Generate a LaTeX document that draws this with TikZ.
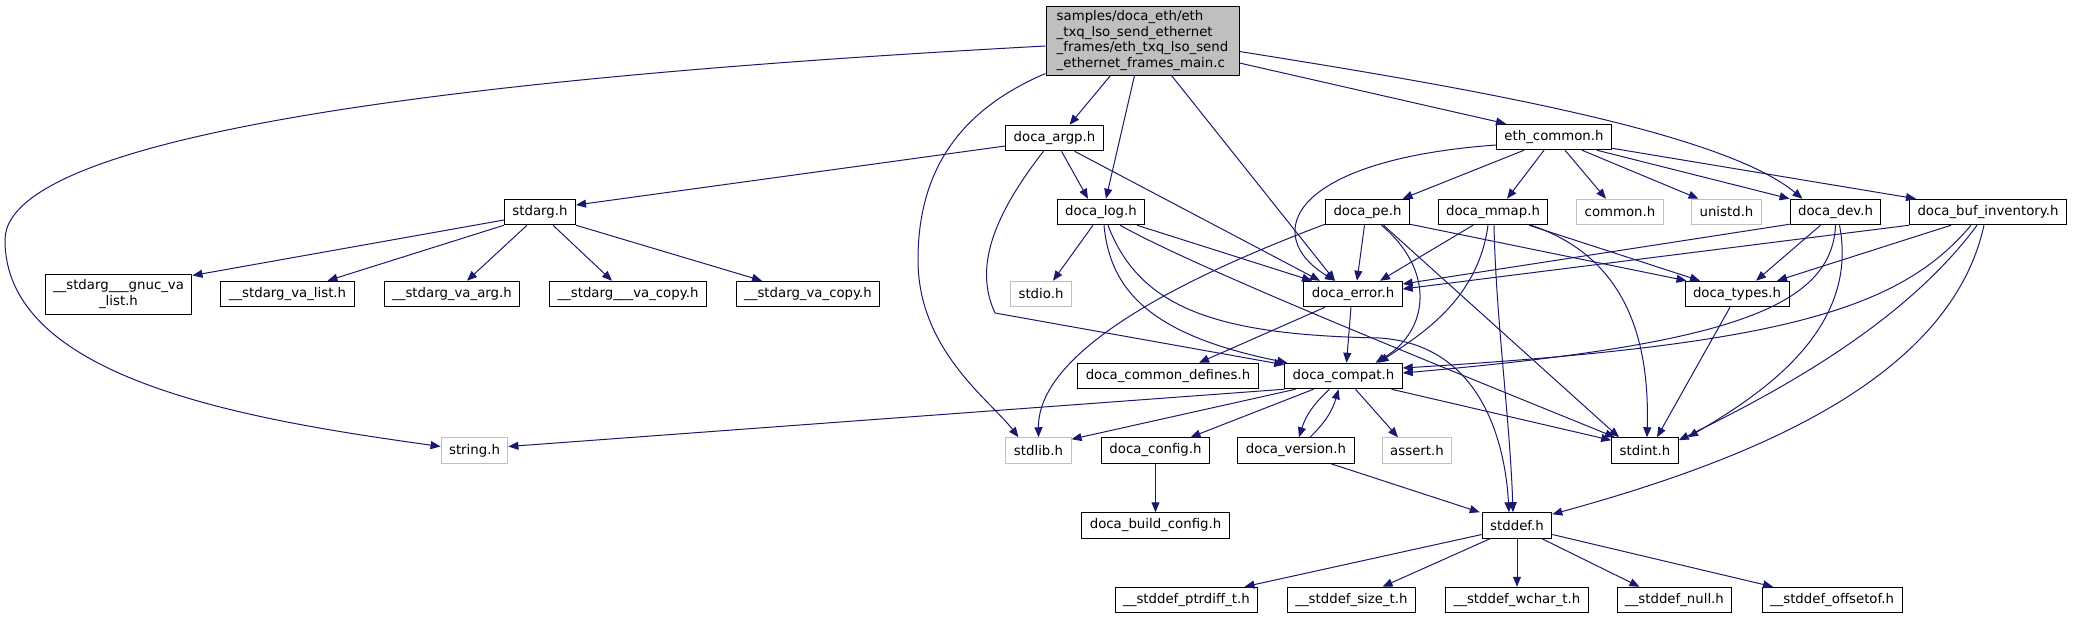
\documentclass[tikz,border=0pt]{standalone}
\usepackage{fontspec}
\setmainfont{DejaVu Sans}
\usepackage{tikz}
\usetikzlibrary{arrows.meta}
\definecolor{edgeblue}{RGB}{25,25,112}
\definecolor{nodegray}{RGB}{191,191,191}
\newcommand{\graphfont}{\fontsize{13.3}{15.5}\selectfont}

\begin{document}
\begin{tikzpicture}[
		x=1pt, y=-1pt,
		box/.style={rectangle, draw=black, fill=white, line width=1pt, minimum height=25.5pt,
				inner xsep=8pt, inner ysep=1pt, font=\graphfont},
		sysbox/.style={box, draw=nodegray},
		mainbox/.style={box, fill=nodegray, align=left, minimum width=193pt, minimum height=69pt},
		arr/.style={-{Triangle[length=10pt,width=8pt]}, line width=1pt, edgeblue},
		]
		\useasboundingbox (0,0) rectangle (2073,619);
		% Nodes
		\node[mainbox] (main) at (1142.5,40.5) {samples/doca\_eth/eth\\\_txq\_lso\_send\_ethernet\\\_frames/eth\_txq\_lso\_send\\\_ethernet\_frames\_main.c};
		\node[box] (argp) at (1054.5,138) {doca\_argp.h};
		\node[box] (log) at (1101,212) {doca\_log.h};
		\node[box] (stdarg) at (540,212) {stdarg.h};
		\node[box, align=center, minimum height=40pt] (gnuc) at (118.5,294) {\_\_stdarg\_\_\_gnuc\_va\\\_list.h};
		\node[box] (valist) at (287.5,294) {\_\_stdarg\_va\_list.h};
		\node[box] (vaarg) at (452,294) {\_\_stdarg\_va\_arg.h};
		\node[box] (vacopyA) at (628,294) {\_\_stdarg\_\_\_va\_copy.h};
		\node[box] (vacopyB) at (808,294) {\_\_stdarg\_va\_copy.h};
		\node[sysbox] (stdio) at (1041,294) {stdio.h};
		\node[box] (error) at (1353,294) {doca\_error.h};
		\node[box] (pe) at (1367.5,212) {doca\_pe.h};
		\node[box] (mmap) at (1493,212) {doca\_mmap.h};
		\node[box] (ethc) at (1554,137) {eth\_common.h};
		\node[sysbox] (common) at (1620,212) {common.h};
		\node[sysbox] (unistd) at (1726.5,212) {unistd.h};
		\node[box] (dev) at (1835.5,212) {doca\_dev.h};
		\node[box] (bufinv) at (1988,212) {doca\_buf\_inventory.h};
		\node[box] (types) at (1737,294) {doca\_types.h};
		\node[box] (commondef) at (1168,376) {doca\_common\_defines.h};
		\node[box] (compat) at (1343.5,376) {doca\_compat.h};
		\node[sysbox] (stringh) at (474.5,450.5) {string.h};
		\node[sysbox] (stdlib) at (1038.5,450.5) {stdlib.h};
		\node[box] (config) at (1155.5,450.5) {doca\_config.h};
		\node[box] (version) at (1296,450.5) {doca\_version.h};
		\node[sysbox] (assert) at (1417,450.5) {assert.h};
		\node[box] (stdint) at (1645,450.5) {stdint.h};
		\node[box] (buildcfg) at (1155.5,525.5) {doca\_build\_config.h};
		\node[box] (stddef) at (1517,525.5) {stddef.h};
		\node[box] (ptrdiff) at (1186.5,600) {\_\_stddef\_ptrdiff\_t.h};
		\node[box] (sizet) at (1351.5,600) {\_\_stddef\_size\_t.h};
		\node[box] (wchart) at (1517,600) {\_\_stddef\_wchar\_t.h};
		\node[box] (nullh) at (1674.5,600) {\_\_stddef\_null.h};
		\node[box] (offsetof) at (1832,600) {\_\_stddef\_offsetof.h};

		% Arrows from the main file
		\draw[arr] ([yshift=-5.5pt]main.west) .. controls (600,70) and (5,120) .. (5,240)
			.. controls (5,380) and (250,420) .. ([yshift=4pt]stringh.west);
		\draw[arr] ([yshift=2pt]main.south west) .. controls (960,110) and (918,170) .. (918,260)
			.. controls (918,350) and (990,400) .. ([xshift=-20pt]stdlib.north);
		\draw[arr] ([xshift=-32pt]main.south) -- ([xshift=15pt]argp.north);
		\draw[arr] ([xshift=-8pt]main.south) -- ([xshift=5pt]log.north);
		\draw[arr] ([xshift=29pt]main.south) -- ([xshift=-18pt]error.north);
		\draw[arr] ([yshift=-22.5pt]main.east) -- ([xshift=10pt]ethc.north west);
		\draw[arr] ([yshift=-11pt]main.east) .. controls (1450,85) and (1720,130) .. ([xshift=-33pt]dev.north);

		% doca_argp.h and stdarg.h
		\draw[arr] ([yshift=-8pt]argp.west) -- ([yshift=7pt]stdarg.east);
		\draw[arr] ([xshift=7pt]argp.south) -- ([xshift=-13pt]log.north);
		\draw[arr] ([xshift=20pt]argp.south) -- ([xshift=-33pt]error.north);
		\draw[arr] ([xshift=-11pt]argp.south) .. controls (990,220) and (975,270) .. (995,313)
			-- ([yshift=-2pt]compat.north west);
		\draw[arr] ([yshift=-8pt]stdarg.west) -- ([yshift=-2pt]gnuc.north east);
		\draw[arr] (stdarg.south west) -- ([xshift=40pt]valist.north);
		\draw[arr] ([xshift=-13pt]stdarg.south) -- ([xshift=15pt]vaarg.north);
		\draw[arr] ([xshift=13pt]stdarg.south) -- ([xshift=-16pt]vacopyA.north);
		\draw[arr] (stdarg.south east) -- ([xshift=-46pt]vacopyB.north);

		% doca_log.h
		\draw[arr] ([xshift=-8pt]log.south) -- ([xshift=12pt]stdio.north);
		\draw[arr] ([xshift=36pt]log.south) -- ([xshift=-41pt]error.north);
		\draw[arr] ([xshift=3pt]log.south) .. controls (1110,290) and (1150,335) .. ([xshift=3pt]compat.north west);
		\draw[arr] ([xshift=7pt]log.south) .. controls (1140,310) and (1220,335) .. (1380,338)
			.. controls (1480,345) and (1505,440) .. ([xshift=-8pt]stddef.north);
		\draw[arr] ([xshift=19pt]log.south) .. controls (1200,270) and (1450,370) .. ([xshift=-30pt]stdint.north);

		% eth_common.h
		\draw[arr] ([yshift=-8pt]ethc.west) .. controls (1290,160) and (1260,235) .. ([xshift=-18pt]error.north);
		\draw[arr] ([xshift=-30pt]ethc.south) -- ([xshift=35pt]pe.north);
		\draw[arr] ([xshift=-10pt]ethc.south) -- ([xshift=14pt]mmap.north);
		\draw[arr] ([xshift=11pt]ethc.south) -- ([xshift=-14pt]common.north);
		\draw[arr] ([xshift=28pt]ethc.south) -- ([xshift=-28pt]unistd.north);
		\draw[arr] ([xshift=43pt]ethc.south) -- (dev.north west);
		\draw[arr] ([yshift=2pt]ethc.south east) -- ([xshift=7pt]bufinv.north west);

		% doca_pe.h
		\draw[arr] ([yshift=1pt]pe.south west) .. controls (1150,290) and (1038,360) .. (stdlib.north);
		\draw[arr] ([xshift=-3pt]pe.south) -- ([xshift=4pt]error.north);
		\draw[arr] ([xshift=14pt]pe.south) .. controls (1435,270) and (1430,330) .. ([xshift=32pt]compat.north);
		\draw[arr] ([yshift=1pt]pe.south east) -- ([xshift=2pt]types.north west);
		\draw[arr] ([xshift=16pt]pe.south) -- ([xshift=-26pt]stdint.north);

		% doca_mmap.h
		\draw[arr] ([xshift=-20pt]mmap.south) -- ([xshift=27pt]error.north);
		\draw[arr] ([xshift=-5pt]mmap.south) .. controls (1478,300) and (1420,335) .. ([xshift=35pt]compat.north);
		\draw[arr] ([xshift=36pt]mmap.south) -- ([xshift=-37pt]types.north);
		\draw[arr] ([xshift=38pt]mmap.south) .. controls (1620,255) and (1650,330) .. ([xshift=2pt]stdint.north);
		\draw[arr] ([xshift=1pt]mmap.south) .. controls (1496,320) and (1510,420) .. ([xshift=-4pt]stddef.north);

		% doca_dev.h
		\draw[arr] ([yshift=1pt]dev.south west) -- ([yshift=10pt]error.east);
		\draw[arr] ([xshift=-15pt]dev.south) -- ([xshift=19pt]types.north);
		\draw[arr] (dev.south) .. controls (1832,310) and (1720,345) .. ([yshift=3pt]compat.east);
		\draw[arr] ([xshift=4pt]dev.south) .. controls (1860,330) and (1760,395) .. ([xshift=43pt]stdint.north);

		% doca_buf_inventory.h
		\draw[arr] (bufinv.south west) -- ([yshift=5pt]error.east);
		\draw[arr] ([xshift=-37pt]bufinv.south) -- ([xshift=40pt]types.north);
		\draw[arr] ([xshift=-17pt]bufinv.south) .. controls (1900,310) and (1780,345) .. ([yshift=8pt]compat.east);
		\draw[arr] ([xshift=-11pt]bufinv.south) .. controls (1900,330) and (1760,400) .. ([yshift=-3pt]stdint.north east);
		\draw[arr] ([xshift=-4pt]bufinv.south) .. controls (1950,380) and (1750,460) .. ([yshift=-2pt]stddef.north east);

		% doca_types.h, doca_error.h
		\draw[arr] ([xshift=-7pt]types.south) -- ([xshift=12pt]stdint.north);
		\draw[arr] ([xshift=-28pt]error.south) -- ([xshift=31pt]commondef.north);
		\draw[arr] ([xshift=-2pt]error.south) -- ([xshift=3pt]compat.north);

		% doca_compat.h
		\draw[arr] (compat.south west) -- ([yshift=4pt]stringh.east);
		\draw[arr] ([xshift=-48pt]compat.south) -- ([yshift=-2pt]stdlib.north east);
		\draw[arr] ([xshift=-30pt]compat.south) -- ([xshift=35pt]config.north);
		\draw[arr] ([xshift=-14pt]compat.south) to[bend right=15] ([xshift=3pt]version.north);
		\draw[arr] ([xshift=12pt]compat.south) -- ([xshift=-19pt]assert.north);
		\draw[arr] ([xshift=48pt]compat.south) -- ([yshift=-3pt]stdint.north west);
		\draw[arr] ([xshift=14pt]version.north) to[bend right=15] ([xshift=-5pt]compat.south);
		\draw[arr] ([xshift=35pt]version.south) -- ([xshift=-2pt]stddef.north west);
		\draw[arr] (config) -- (buildcfg);

		% stddef.h
		\draw[arr] ([yshift=-9pt]stddef.west) -- ([xshift=58pt]ptrdiff.north);
		\draw[arr] ([xshift=-27pt]stddef.south) -- ([xshift=31pt]sizet.north);
		\draw[arr] (stddef) -- (wchart);
		\draw[arr] ([xshift=25pt]stddef.south) -- ([xshift=-35pt]nullh.north);
		\draw[arr] ([yshift=-9pt]stddef.east) -- ([xshift=-59pt]offsetof.north);
	\end{tikzpicture}
\end{document}
